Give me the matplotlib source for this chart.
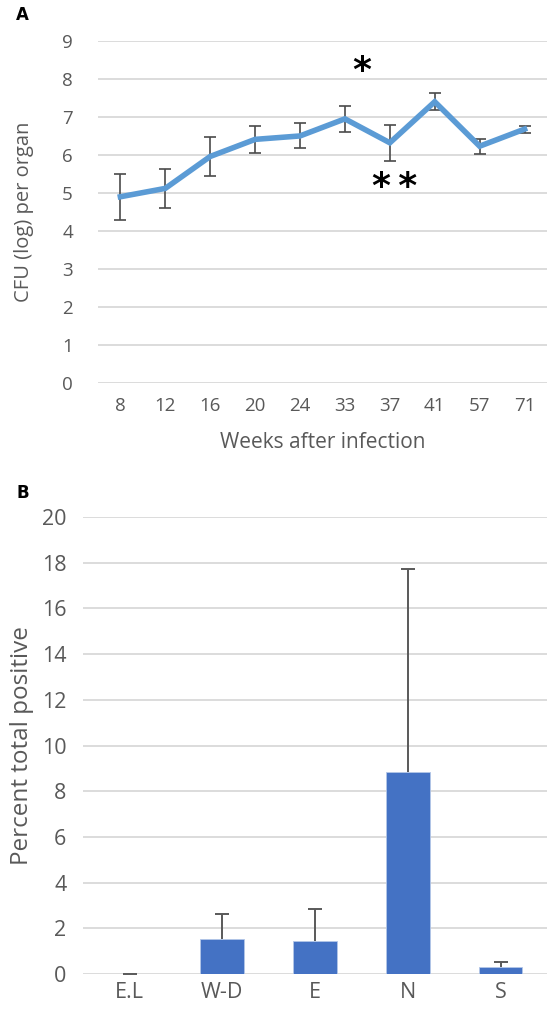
import matplotlib.pyplot as plt
import numpy as np

plt.rcParams['font.family'] = ['Open Sans', 'DejaVu Sans']

# panel A: CFU over time
weeks = ['8', '12', '16', '20', '24', '33', '37', '41', '57', '71']
cfu = [4.9, 5.12, 5.96, 6.41, 6.5, 6.95, 6.32, 7.4, 6.23, 6.68]
cfu_err = [0.6, 0.51, 0.52, 0.36, 0.33, 0.34, 0.47, 0.23, 0.2, 0.09]

# panel B: percent positive per region
regions = ['E.L', 'W-D', 'E', 'N', 'S']
pct = [0.02, 1.55, 1.44, 8.85, 0.32]
pct_err = [0.0, 1.06, 1.4, 8.86, 0.2]

grey = '#595959'
gridc = '#D9D9D9'

fig = plt.figure(figsize=(5.47, 10.11), dpi=100)

# ---- A ----
ax1 = fig.add_axes([0.179, 0.6212, 0.821, 0.3383])
x = np.arange(len(weeks))
ax1.errorbar(x, cfu, yerr=cfu_err, fmt='none', ecolor='#4a4a4a', elinewidth=1.2,
             capsize=4, capthick=1.2, zorder=2)
ax1.plot(x, cfu, color='#5B9BD5', lw=4, solid_joinstyle='miter', zorder=3)
ax1.set_ylim(0, 9)
ax1.set_xlim(-0.5, len(weeks) - 0.5)
ax1.set_yticks(range(0, 10))
ax1.set_xticks(x)
ax1.set_xticklabels(weeks)
ax1.grid(axis='y', color=gridc, lw=1.3)
ax1.set_axisbelow(True)
for s in ax1.spines.values():
    s.set_visible(False)
ax1.tick_params(length=0, labelsize=13.5, colors=grey, pad=10)
ax1.tick_params(axis='y', pad=18)
ax1.set_ylabel('CFU (log) per organ', fontsize=14.5, color=grey, labelpad=20)
ax1.set_xlabel('Weeks after infection', fontsize=15, color=grey, labelpad=12)
ax1.text(5.37, 8.2, '*', fontsize=26, fontweight='bold', family='DejaVu Sans',
         ha='center', va='center')
ax1.text(6.1, 5.15, '*\u2009*', fontsize=26, fontweight='bold', family='DejaVu Sans',
         ha='center', va='center')
fig.text(0.03, 0.985, 'A', fontsize=12, fontweight='bold', family='DejaVu Sans', va='center')

# ---- B ----
ax2 = fig.add_axes([0.152, 0.0366, 0.848, 0.452])
xb = np.arange(len(regions))
ax2.bar(xb, pct, width=0.47, color='#4472C4', edgecolor='#B4C7E7', lw=0.6, zorder=2)
eb = ax2.errorbar(xb, pct, yerr=[np.zeros(len(pct)), pct_err], fmt='none', ecolor=grey,
                  elinewidth=1.4, capsize=5, capthick=1.4, zorder=3)
eb[1][0].set_visible(False)  # no cap at the bar top
ax2.set_ylim(0, 20)
ax2.set_xlim(-0.5, len(regions) - 0.5)
ax2.set_yticks(range(0, 21, 2))
ax2.set_xticks(xb)
ax2.set_xticklabels(regions)
ax2.grid(axis='y', color=gridc, lw=1.3)
ax2.set_axisbelow(True)
for s in ax2.spines.values():
    s.set_visible(False)
ax2.tick_params(length=0, labelsize=15.5, colors=grey, pad=6)
ax2.tick_params(axis='y', pad=12)
ax2.set_ylabel('Percent total positive', fontsize=17.5, color=grey, labelpad=6)
fig.text(0.03, 0.512, 'B', fontsize=12, fontweight='bold', family='DejaVu Sans', va='center')

plt.savefig('out.png', dpi=100)
